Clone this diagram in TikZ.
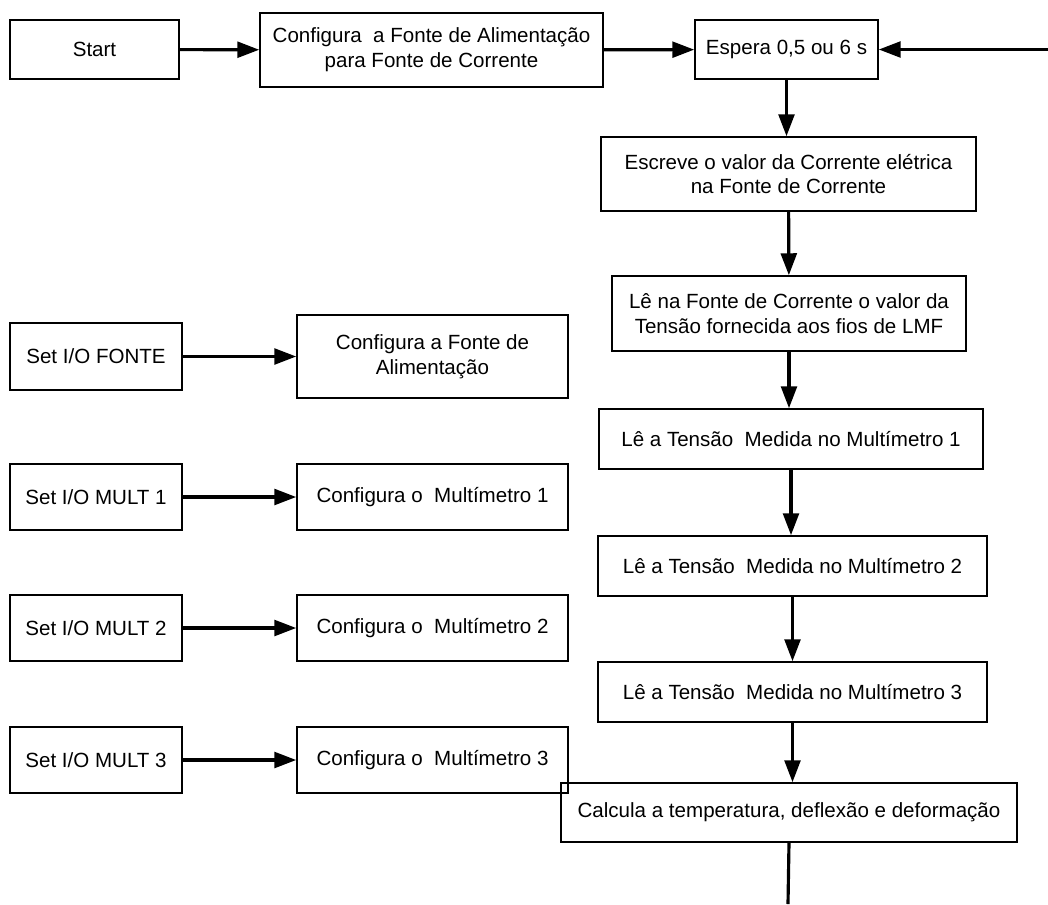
\documentclass[tikz,border=0pt]{standalone}
\usepackage{fontspec}
\setmainfont{Liberation Sans}
\usetikzlibrary{arrows.meta}

\begin{document}
\begin{tikzpicture}[x=0.02cm,y=-0.02cm,
	box/.style={draw,line width=0.9pt,align=center,inner sep=2pt,font=\fontsize{11.7}{14.2}\selectfont},
	flow/.style={line width=1.8pt,-{Triangle[length=12.5pt,width=9pt]}}]
	\useasboundingbox (0,0) rectangle (1048,904);

	\node[box,minimum width=3.38cm,minimum height=1.18cm] (start) at (94.5,49.5) {Start};
	\node[box,minimum width=6.86cm,minimum height=1.48cm] (cfgfonte) at (431.5,50) {Configura\ \ a Fonte de Alimentação\\para Fonte de Corrente};
	\node[box,minimum width=3.66cm,minimum height=1.18cm] (espera) at (786.5,49.5) {Espera 0,5 ou 6 s};
	\node[box,minimum width=7.5cm,minimum height=1.48cm] (escreve) at (788.5,174) {Escreve o valor da Corrente elétrica\\na Fonte de Corrente};
	\node[box,minimum width=7.08cm,minimum height=1.5cm] (lefonte) at (789,313.5) {Lê na Fonte de Corrente o valor da\\Tensão fornecida aos fios de LMF};
	\node[box,minimum width=7.68cm,minimum height=1.2cm] (le1) at (791,439) {Lê a Tensão\ \ Medida no Multímetro 1};
	\node[box,minimum width=7.78cm,minimum height=1.2cm] (le2) at (792.5,566) {Lê a Tensão\ \ Medida no Multímetro 2};
	\node[box,minimum width=7.78cm,minimum height=1.2cm] (le3) at (792.5,692) {Lê a Tensão\ \ Medida no Multímetro 3};
	\node[box,minimum width=9.12cm,minimum height=1.18cm] (calcula) at (789,812.5) {Calcula a temperatura, deflexão e deformação};

	\node[box,minimum width=3.44cm,minimum height=1.34cm] (setfonte) at (96,356.5) {Set I/O FONTE};
	\node[box,minimum width=5.42cm,minimum height=1.66cm] (cfgali) at (432.5,356.5) {Configura a Fonte de\\Alimentação};
	\foreach \n/\y in {1/497,2/628,3/760}{
		\node[box,minimum width=3.44cm,minimum height=1.32cm] (setm\n) at (96,\y) {Set I/O MULT \n};
		\node[box,minimum width=5.42cm,minimum height=1.32cm] (cfgm\n) at (432.5,\y) {Configura o\ \ Multímetro \n};
		\draw[flow] (setm\n) -- (cfgm\n);
	}

	\coordinate (loopin) at (1048,49.5);
	\coordinate (loopout) at (788,904);

	\draw[flow] (start) -- (cfgfonte);
	\draw[flow] (cfgfonte) -- (espera);
	\draw[flow] (loopin) -- (espera);
	\draw[flow] (setfonte) -- (cfgali);
	\draw[flow] (espera.south) -- (espera.south |- escreve.north);
	\draw[flow] (escreve) -- (lefonte);
	\draw[flow] (lefonte.south) -- (lefonte.south |- le1.north);
	\draw[flow] (le1.south) -- (le1.south |- le2.north);
	\draw[flow] (le2) -- (le3);
	\draw[flow] (le3.south) -- (le3.south |- calcula.north);
	\draw[line width=1.8pt] (calcula.south) -- (loopout);
\end{tikzpicture}
\end{document}
